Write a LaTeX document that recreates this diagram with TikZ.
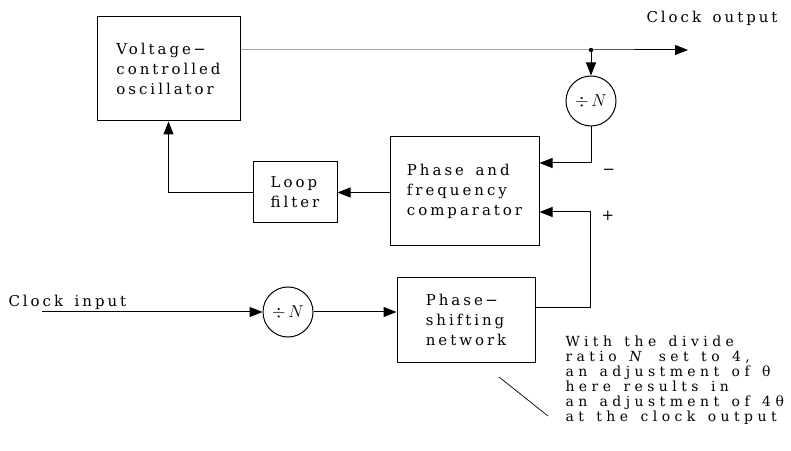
\documentclass[tikz,border=0pt]{standalone}
\usepackage{fontspec}
\setmainfont{DejaVu Serif}
\newfontfamily\boxfont[LetterSpace=20,WordSpace=1.5]{DejaVu Serif}
\newfontfamily\notefont[LetterSpace=32,WordSpace=1.4]{DejaVu Serif}
\usetikzlibrary{arrows.meta}
\begin{document}
\begin{tikzpicture}[x=1bp,y=-1bp,line width=1bp,
  arr/.style={-{Triangle[length=13bp,width=10bp]}},
  blk/.style={draw,inner sep=0pt,align=left,font=\boxfont\fontsize{15}{20}\selectfont},
  divc/.style={draw,circle,inner sep=0pt,minimum size=50bp,font=\fontsize{17}{18}\selectfont},
  lbl/.style={inner sep=0pt,font=\boxfont\fontsize{15}{20}\selectfont},
  note/.style={inner sep=0pt,align=left,font=\notefont\fontsize{14}{15}\selectfont}]
\useasboundingbox (0,0) rectangle (791,451);
% blocks
\node[blk,minimum width=143bp,minimum height=104bp] (vco) at (168.5,69) {Voltage\,−\\controlled\\oscillator};
\node[blk,minimum width=149bp,minimum height=109bp] (cmp) at (464.5,191.5) {Phase and\\frequency\\comparator};
\node[blk,minimum width=84bp,minimum height=61bp] (lf) at (295,192.5) {Loop\\filter};
\node[blk,minimum width=138bp,minimum height=84bp] (psn) at (466,320) {Phase\,−\\shifting\\network};
\node[divc] (d1) at (591,101) {$\div\,N$};
\node[divc] (d2) at (288,312) {$\div\,N$};
% labels
\node[lbl] (cout) at (712,18) {Clock output};
\node[lbl,anchor=west] (cin) at (8,302) {Clock input};
\node[lbl] (minus) at (609,172) {−};
\node[lbl] (plus) at (608,216) {+};
\node[note,anchor=west] (txt) at (565,380) {With the divide\\ratio \textit{N} set to 4,\\an adjustment of θ\\here results in\\an adjustment of 4θ\\at the clock output};
% coordinates
\coordinate (jn) at (591,50);
\coordinate (oend) at (688,50);
\coordinate (cinS) at (42,312);
\coordinate (pc) at (590,212);
\coordinate (mc) at (591,163);
\coordinate (k1) at (499,377);
\coordinate (k2) at (548,416);
% connectors
\draw[arr] (vco.east |- jn) -- (jn) -- (oend);
\fill (jn) circle (2.2bp);
\draw[arr] (jn) -- (d1.north);
\draw[arr] (d1.south) -- (mc) -- (mc -| cmp.east);
\draw[arr] (cmp.west |- lf.east) -- (lf.east);
\draw[arr] (lf.west) -| (vco.south);
\draw[arr] (cinS) -- (d2.west);
\draw[arr] (d2.east) -- (d2.east -| psn.west);
\draw[arr] ([yshift=12bp]psn.east) -| (pc) -- (pc -| cmp.east);
\draw[line width=0.7bp] (k1) -- (k2);
\end{tikzpicture}
\end{document}
